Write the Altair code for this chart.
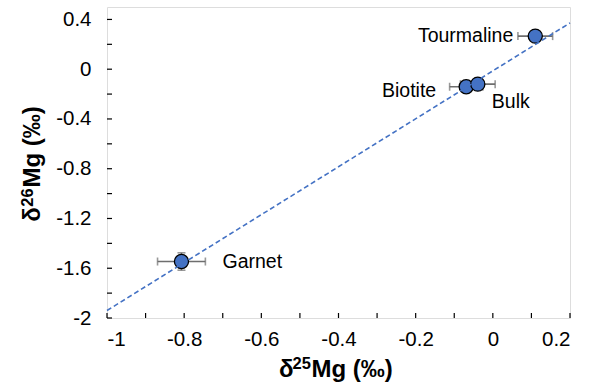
import altair as alt
import pandas as pd

minerals = ["Tourmaline", "Biotite", "Bulk", "Garnet"]
d25 = [0.11, -0.069, -0.039, -0.807]
d26 = [0.266, -0.141, -0.12, -1.546]
err25 = [0.045, 0.043, 0.045, 0.062]
err26 = [0.03, 0.03, 0.03, 0.07]

fit_x = [-1.0, 0.2]
fit_y = [-1.94, 0.372]

x_ticks = [-1, -0.9, -0.8, -0.7, -0.6, -0.5, -0.4, -0.3, -0.2, -0.1, 0, 0.1, 0.2]
x_labels = [-1, -0.8, -0.6, -0.4, -0.2, 0, 0.2]
y_ticks = [-2, -1.8, -1.6, -1.4, -1.2, -1.0, -0.8, -0.6, -0.4, -0.2, 0, 0.2, 0.4]
y_labels = [-2, -1.6, -1.2, -0.8, -0.4, 0, 0.4]

# axis titles: delta symbol, superscript mass number, rest
x_title = ["δ", "25", "Mg (‰)"]
y_title = ["δ", "26", "Mg (‰)"]

W, H = 463, 311
FONT = "Liberation Sans"
BLUE = "#4472C4"
GREY = "#6e6e6e"

df = pd.DataFrame({
    "mineral": minerals, "x": d25, "y": d26,
    "xlo": [a - b for a, b in zip(d25, err25)],
    "xhi": [a + b for a, b in zip(d25, err25)],
    "ylo": [a - b for a, b in zip(d26, err26)],
    "yhi": [a + b for a, b in zip(d26, err26)],
})
fit = pd.DataFrame({"x": fit_x, "y": fit_y})
xt = pd.DataFrame({"v": x_ticks})
yt = pd.DataFrame({"v": y_ticks})
one = pd.DataFrame({"k": [0]})

xscale = alt.Scale(domain=[-1, 0.2], nice=False, zero=False)
yscale = alt.Scale(domain=[-2, 0.5], nice=False, zero=False)

xaxis = alt.Axis(values=x_labels, labelExpr="toString(datum.value)", ticks=False,
                 domain=False, grid=False, labelFont=FONT, labelFontSize=20.5,
                 labelColor="black", labelPadding=11, title="")
yaxis = alt.Axis(values=y_labels, labelExpr="toString(datum.value)", ticks=False,
                 domain=False, grid=False, labelFont=FONT, labelFontSize=20.5,
                 labelColor="black", labelPadding=16, title="")

base = alt.Chart(df)

points_axes = base.mark_point(opacity=0).encode(
    x=alt.X("x:Q", scale=xscale, axis=xaxis),
    y=alt.Y("y:Q", scale=yscale, axis=yaxis),
)

xbar = base.mark_rule(color=GREY, strokeWidth=1.6).encode(
    x=alt.X("xlo:Q", scale=xscale), x2="xhi:Q", y=alt.Y("y:Q", scale=yscale))
ybar = base.mark_rule(color=GREY, strokeWidth=1.6).encode(
    y=alt.Y("ylo:Q", scale=yscale), y2="yhi:Q", x=alt.X("x:Q", scale=xscale))
cap_l = base.mark_tick(color=GREY, thickness=1.6, size=8, orient="vertical").encode(
    x=alt.X("xlo:Q", scale=xscale), y=alt.Y("y:Q", scale=yscale))
cap_r = base.mark_tick(color=GREY, thickness=1.6, size=8, orient="vertical").encode(
    x=alt.X("xhi:Q", scale=xscale), y=alt.Y("y:Q", scale=yscale))
cap_b = base.mark_tick(color=GREY, thickness=1.6, size=8, orient="horizontal").encode(
    x=alt.X("x:Q", scale=xscale), y=alt.Y("ylo:Q", scale=yscale))
cap_t = base.mark_tick(color=GREY, thickness=1.6, size=8, orient="horizontal").encode(
    x=alt.X("x:Q", scale=xscale), y=alt.Y("yhi:Q", scale=yscale))

dots = base.mark_circle(size=200, color=BLUE, opacity=1, stroke="black",
                        strokeWidth=1.3).encode(
    x=alt.X("x:Q", scale=xscale), y=alt.Y("y:Q", scale=yscale))

line = alt.Chart(fit).mark_line(color=BLUE, strokeDash=[5, 3], strokeWidth=1.6).encode(
    x=alt.X("x:Q", scale=xscale), y=alt.Y("y:Q", scale=yscale))

label_style = {
    "Tourmaline": dict(align="right", dx=-22, dy=0),
    "Biotite": dict(align="right", dx=-30, dy=4),
    "Bulk": dict(align="left", dx=14, dy=18),
    "Garnet": dict(align="left", dx=41, dy=0),
}
labels = []
for m in minerals:
    s = label_style[m]
    labels.append(
        base.transform_filter(alt.datum.mineral == m).mark_text(
            font=FONT, fontSize=19.5, color="black", baseline="middle", **s
        ).encode(x=alt.X("x:Q", scale=xscale), y=alt.Y("y:Q", scale=yscale),
                 text="mineral:N")
    )

xtick_marks = alt.Chart(xt).mark_rule(color="black", strokeWidth=1.2).encode(
    x=alt.X("v:Q", scale=xscale), y=alt.value(H), y2=alt.value(H - 5))
ytick_marks = alt.Chart(yt).mark_rule(color="black", strokeWidth=1.2).encode(
    y=alt.Y("v:Q", scale=yscale), x=alt.value(0), x2=alt.value(5))


def piece(text, px, py, size, angle=0):
    return alt.Chart(one).mark_text(
        font=FONT, fontSize=size, fontWeight="bold", color="black",
        align="left", baseline="alphabetic", angle=angle,
    ).encode(x=alt.value(px), y=alt.value(py), text=alt.value(text))


# x title pieces (plot coordinates)
xt_parts = [
    piece(x_title[0], 172, 369.5, 24),
    piece(x_title[1], 185.5, 362, 16.5),
    piece(x_title[2], 204.5, 369.5, 24),
]
# y title pieces, rotated
yt_parts = [
    piece(y_title[0], -67, 214.7, 24, 270),
    piece(y_title[1], -73.7, 199.7, 16.5, 270),
    piece(y_title[2], -67, 180.5, 24, 270),
]

chart = alt.layer(
    points_axes, xtick_marks, ytick_marks, xbar, ybar, cap_l, cap_r, cap_b, cap_t,
    dots, line, *labels, *xt_parts, *yt_parts
).properties(
    width=W, height=H,
    autosize=alt.AutoSizeParams(type="none"),
    padding={"left": 107, "top": 7, "right": 25, "bottom": 68},
).configure_view(
    stroke="black", strokeWidth=1.8
).configure(background="white")

chart.save("out.html", embed_options={"renderer": "svg", "actions": False})
